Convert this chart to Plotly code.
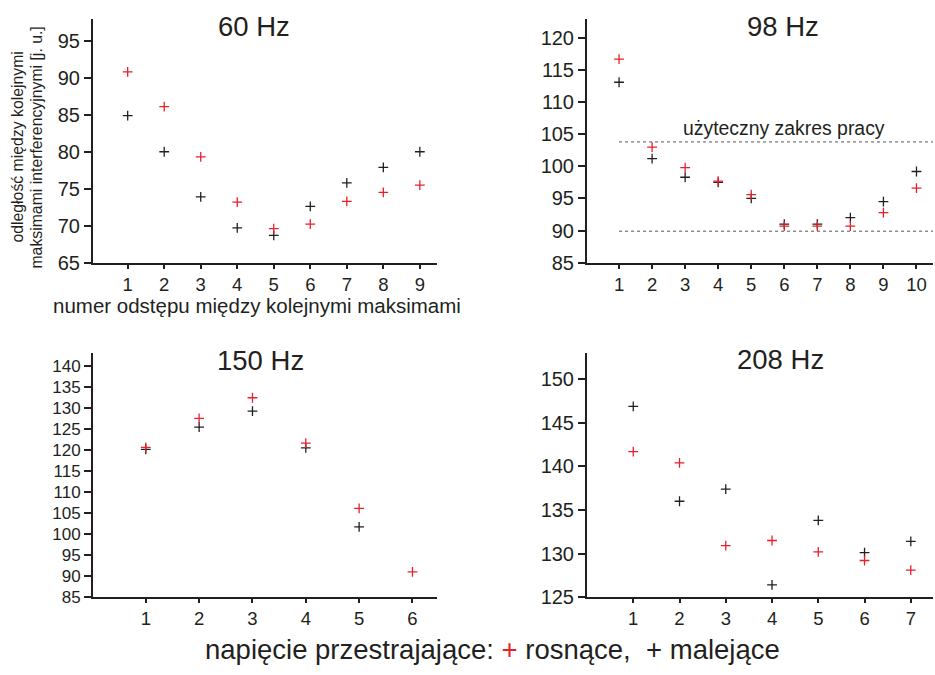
import plotly.graph_objects as go

# Odległości między kolejnymi maksimami interferencyjnymi [j. u.]
n_60 = [1, 2, 3, 4, 5, 6, 7, 8, 9]
up_60 = [90.8, 86.1, 79.3, 73.2, 69.6, 70.2, 73.3, 74.5, 75.5]
down_60 = [84.9, 80.0, 73.9, 69.7, 68.7, 72.6, 75.8, 77.9, 80.0]

n_98 = [1, 2, 3, 4, 5, 6, 7, 8, 9, 10]
up_98 = [116.7, 103.0, 99.8, 97.7, 95.6, 90.7, 90.7, 90.7, 92.8, 96.6]
down_98 = [113.1, 101.2, 98.3, 97.5, 95.0, 91.0, 91.0, 92.0, 94.5, 99.2]
useful_range_98 = [89.9, 103.8]

n_150 = [1, 2, 3, 4, 5, 6]
up_150 = [120.6, 127.5, 132.4, 121.6, 106.1, 91.0]
down_150 = [120.1, 125.4, 129.2, 120.5, 101.7]

n_208 = [1, 2, 3, 4, 5, 6, 7]
up_208 = [141.7, 140.4, 130.9, 131.5, 130.2, 129.2, 128.1]
down_208 = [146.9, 136.0, 137.4, 126.4, 133.8, 130.1, 131.4]

titles = ["60 Hz", "98 Hz", "150 Hz", "208 Hz"]

RED = "#e8202a"
BLACK = "#231f20"
FONT = "Liberation Sans, Arial, sans-serif"

W, H = 935, 675


def px_x(v):
    return v / W


def px_y(v):
    return 1 - v / H


fig = go.Figure()

panels = [
    ("x", "y", n_60, up_60, down_60),
    ("x2", "y2", n_98, up_98, down_98),
    ("x3", "y3", n_150, up_150, down_150),
    ("x4", "y4", n_208, up_208, down_208),
]

for xa, ya, n, up, down in panels:
    fig.add_trace(go.Scatter(
        x=n[:len(down)], y=down, mode="markers", xaxis=xa, yaxis=ya,
        marker=dict(symbol="cross-thin", size=7, line=dict(color=BLACK, width=1.3)),
        showlegend=False, hoverinfo="x+y"))
    fig.add_trace(go.Scatter(
        x=n[:len(up)], y=up, mode="markers", xaxis=xa, yaxis=ya,
        marker=dict(symbol="cross-thin", size=7, line=dict(color=RED, width=1.3)),
        showlegend=False, hoverinfo="x+y"))

left_dom = [px_x(93), px_x(437)]
right_dom = [px_x(587), px_x(933)]
top_dom = [px_y(267), px_y(19)]
bot_dom = [px_y(607), px_y(359)]

common_axis = dict(
    showline=True, linecolor=BLACK, linewidth=2,
    ticks="outside", tickwidth=2, tickcolor=BLACK,
    showgrid=False, zeroline=False,
)

layout_axes = {}
specs = [
    ("xaxis", "yaxis", left_dom, top_dom, [0.05, 9.47], n_60, [65, 98], 20, "y", "x"),
    ("xaxis2", "yaxis2", right_dom, top_dom, [0.03, 10.5], n_98, [85, 123], 20, "y2", "x2"),
    ("xaxis3", "yaxis3", left_dom, bot_dom, [0.01, 6.46], n_150, [85, 143], 17, "y3", "x3"),
    ("xaxis4", "yaxis4", right_dom, bot_dom, [0.0, 7.48], n_208, [125, 153], 20, "y4", "x4"),
]
for xk, yk, xd, yd, xr, n, yr, fs, anchor_x, anchor_y in specs:
    ax = dict(common_axis)
    ax.update(domain=xd, range=xr, tickmode="array", tickvals=n,
              ticktext=[str(v) for v in n], anchor=anchor_x, ticklen=4,
              tickfont=dict(family=FONT, size=18.5, color=BLACK))
    ay = dict(common_axis)
    ay.update(domain=yd, range=yr, dtick=5, tick0=0, anchor=anchor_y, ticklen=7,
              tickfont=dict(family=FONT, size=fs, color=BLACK))
    layout_axes[xk] = ax
    layout_axes[yk] = ay

fig.update_layout(**layout_axes)

# Zakres użyteczny dla 98 Hz
shapes = []
for lvl in useful_range_98:
    shapes.append(dict(type="line", xref="x2", yref="y2",
                       x0=1, x1=10.5, y0=lvl, y1=lvl,
                       line=dict(color="#555555", width=1, dash="dot")))

annotations = []
title_pos = [(254, 27), (783, 27), (260, 366), (780, 365)]
for t, (tx, ty) in zip(titles, title_pos):
    annotations.append(dict(text=t, x=px_x(tx), y=px_y(ty), xref="paper", yref="paper",
                            showarrow=False, xanchor="center", yanchor="middle",
                            font=dict(family=FONT, size=27.5, color=BLACK)))

annotations.append(dict(text="użyteczny zakres pracy", x=px_x(784), y=px_y(130),
                        xref="paper", yref="paper", showarrow=False,
                        xanchor="center", yanchor="middle",
                        font=dict(family=FONT, size=19.4, color=BLACK)))

# Opis osi Y w dwóch wierszach
for line, lx in [("odległość między kolejnymi", 18), ("maksimami interferencyjnymi [j. u.]", 37)]:
    annotations.append(dict(text=line, x=px_x(lx), y=px_y(150), xref="paper", yref="paper",
                            showarrow=False, textangle=-90, xanchor="center", yanchor="middle",
                            font=dict(family=FONT, size=15.8, color=BLACK)))

annotations.append(dict(text="numer odstępu między kolejnymi maksimami",
                        x=px_x(257), y=px_y(311), xref="paper", yref="paper",
                        showarrow=False, xanchor="center", yanchor="middle",
                        font=dict(family=FONT, size=20.5, color=BLACK)))

annotations.append(dict(text="napięcie przestrajające: <span style='color:%s'>+</span> rosnące, &nbsp;+ malejące" % RED,
                        x=px_x(492), y=px_y(660), xref="paper", yref="paper",
                        showarrow=False, xanchor="center", yanchor="middle",
                        font=dict(family=FONT, size=27.5, color=BLACK)))

fig.update_layout(
    width=W, height=H,
    margin=dict(l=0, r=0, t=0, b=0),
    paper_bgcolor="white", plot_bgcolor="white",
    shapes=shapes, annotations=annotations,
    showlegend=False,
)

fig.write_html("out.html")
